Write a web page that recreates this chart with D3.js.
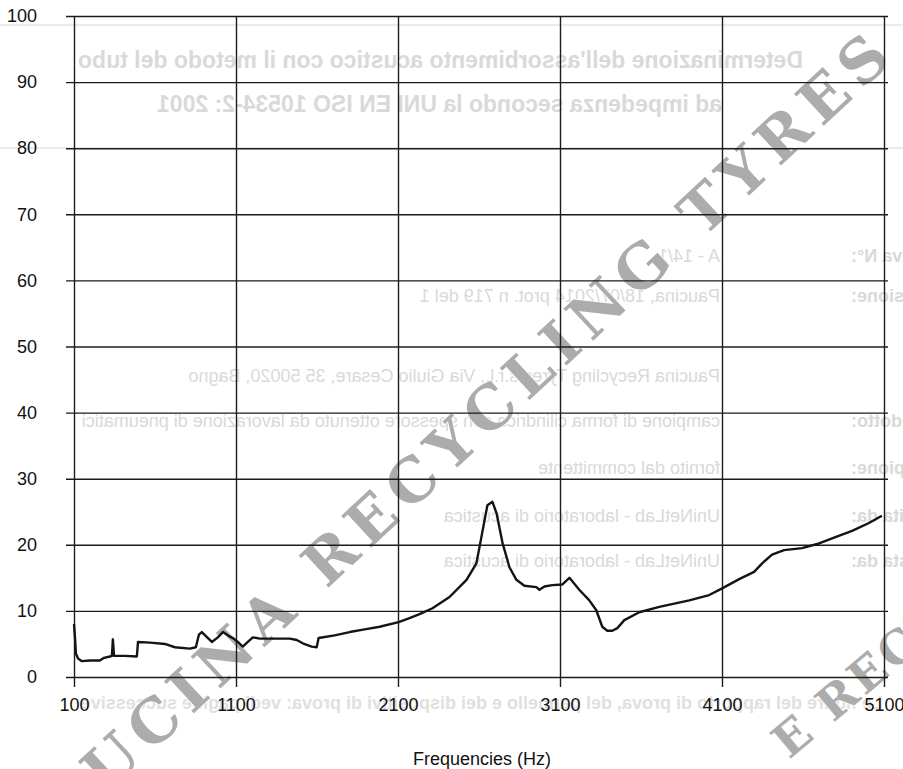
<!DOCTYPE html>
<html>
<head>
<meta charset="utf-8">
<script src="https://cdn.jsdelivr.net/npm/d3@7"></script>
<style>
  html, body { margin: 0; padding: 0; background: #fff; }
  svg { display: block; }
</style>
</head>
<body>
<svg id="chart"></svg>
<script>
const freqs = [100, 106, 112, 125, 149, 199, 260, 285, 322, 334, 340, 347, 414, 488, 495, 569, 661, 723, 815, 852,
  871, 889, 914, 951, 988, 1019, 1049, 1086, 1111, 1142, 1173, 1204, 1247, 1339, 1432, 1475, 1512, 1567, 1598, 1610,
  1709, 1802, 1894, 1987, 2104, 2171, 2233, 2313, 2418, 2523, 2584, 2615, 2652, 2683, 2708, 2745, 2788, 2831, 2880, 2954,
  2973, 3004, 3053, 3115, 3158, 3219, 3281, 3324, 3361, 3392, 3423, 3454, 3497, 3589, 3713, 3898, 4021, 4101, 4206, 4298,
  4348, 4409, 4483, 4594, 4699, 4804, 4903, 5007, 5087];
const absorption = [8.0, 6.0, 3.5, 2.8, 2.4, 2.5, 2.5, 2.9, 3.1, 3.2, 5.7, 3.2, 3.2, 3.1, 5.3, 5.2, 5.0, 4.5, 4.3, 4.5,
  6.4, 6.8, 6.2, 5.3, 6.0, 6.8, 6.3, 5.8, 5.3, 4.6, 5.3, 6.0, 5.8, 5.8, 5.8, 5.6, 5.1, 4.6, 4.5, 5.9,
  6.3, 6.8, 7.2, 7.6, 8.3, 8.9, 9.5, 10.4, 12.1, 14.7, 17.2, 21.2, 26.0, 26.5, 24.8, 20.3, 16.6, 14.7, 13.8, 13.6,
  13.2, 13.7, 13.9, 14.0, 15.0, 13.2, 11.6, 10.1, 7.6, 7.0, 7.0, 7.4, 8.6, 9.8, 10.6, 11.6, 12.4, 13.4, 14.8, 15.9,
  17.2, 18.5, 19.2, 19.5, 20.2, 21.2, 22.1, 23.3, 24.4];
const xTicks = [100, 1100, 2100, 3100, 4100, 5100];
const yTicks = [0, 10, 20, 30, 40, 50, 60, 70, 80, 90, 100];
const xTitle = 'Frequencies (Hz)';

// show-through of the back page (mirrored on the scan)
const backTitle = ["Determinazione dell'assorbimento acustico con il metodo del tubo",
  'ad impedenza secondo la UNI EN ISO 10534-2: 2001'];
const backLabels = ['Rapporto di prova N°:', 'Data emissione:', '', 'Descrizione del prodotto:',
  'Identificazione del campione:', 'Prova eseguita da:', 'Prova richiesta da:'];
const backValues = ['A - 14/1', 'Paucina, 18/07/2014                          prot. n 719 del 1',
  'Paucina Recycling Tyres s.r.l., Via Giulio Cesare, 35  50020, Bagno',
  'campione di forma cilindrica con spessore ottenuto da lavorazione di pneumatici',
  'fornito dal committente', 'UniNetLab - laboratorio di acustica', 'UniNetLab - laboratorio di acustica'];
const backFooter = 'Le figure del rapporto di prova, del pannello e dei dispositivi di prova: vedi pagine successive';

const width = 903;
const height = 769;

const svg = d3.select('#chart')
  .attr('width', width)
  .attr('height', height);

svg.append('rect')
  .attr('width', width)
  .attr('height', height)
  .attr('fill', '#fff');

const back = svg.append('g')
  .attr('transform', `translate(${width},0) scale(-1,1)`)
  .attr('fill', '#d9d9d9')
  .style('font-family', '"Liberation Sans", Arial, sans-serif')
  .style('font-weight', 'bold')
  .style('white-space', 'pre');

back.selectAll('.rule')
  .data([25, 148])
  .enter()
  .append('line')
  .attr('x1', 0)
  .attr('x2', width)
  .attr('y1', d => d)
  .attr('y2', d => d)
  .attr('stroke', '#e4e4e4')
  .attr('stroke-width', 1.5);

back.selectAll('.title')
  .data(backTitle)
  .enter()
  .append('text')
  .attr('x', (d, i) => i === 0 ? 825 : 746)
  .attr('y', (d, i) => i === 0 ? 68 : 112)
  .attr('text-anchor', 'end')
  .style('font-size', '23px')
  .text(d => d);

const rowY = [262, 302, 382, 427, 474, 522, 567];
back.selectAll('.lab')
  .data(backLabels)
  .enter()
  .append('text')
  .attr('x', 52)
  .attr('y', (d, i) => rowY[i])
  .attr('text-anchor', 'end')
  .style('font-size', '18px')
  .text(d => d);

back.selectAll('.val')
  .data(backValues)
  .enter()
  .append('text')
  .attr('x', 183)
  .attr('y', (d, i) => rowY[i])
  .style('font-size', '18px')
  .style('font-weight', 'normal')
  .text(d => d);

back.append('text')
  .attr('x', 20)
  .attr('y', 709)
  .attr('fill', '#e0e0e0')
  .style('font-size', '18px')
  .text(backFooter);

// watermark
const mark = svg.append('g')
  .style('font-family', '"DejaVu Serif", "Liberation Serif", serif')
  .style('font-weight', 'bold')
  .attr('fill', '#acacac')
  .attr('stroke', '#fff')
  .attr('stroke-width', 1.5)
  .style('paint-order', 'stroke');

mark.append('text')
  .attr('transform', 'translate(30,866) rotate(-43)')
  .attr('textLength', 1180)
  .attr('lengthAdjust', 'spacing')
  .style('font-size', '60px')
  .text('PAUCINA RECYCLING TYRES');

mark.append('text')
  .attr('transform', 'translate(789,760) rotate(-40)')
  .attr('textLength', 396)
  .attr('lengthAdjust', 'spacing')
  .style('font-size', '46px')
  .text('E RECYCLING');

// chart
const x = d3.scaleLinear().domain([100, 5100]).range([74, 884]);
const y = d3.scaleLinear().domain([0, 100]).range([677, 16]);

const yAxis = svg.append('g')
  .attr('transform', 'translate(66,0)')
  .call(d3.axisLeft(y).tickValues(yTicks).tickSize(-822).tickPadding(29).tickFormat(d3.format('d')));

const xAxis = svg.append('g')
  .attr('transform', 'translate(0,687)')
  .call(d3.axisBottom(x).tickValues(xTicks).tickSize(-671).tickPadding(11).tickFormat(d3.format('d')));

[xAxis, yAxis].forEach(a => {
  a.select('.domain').remove();
  a.selectAll('line').attr('stroke', '#1c1c1c').attr('stroke-width', 1.4);
  a.selectAll('text')
    .attr('fill', '#111')
    .style('font-family', '"Liberation Sans", Arial, sans-serif')
    .style('font-size', '18px');
});

const line = d3.line()
  .x((d, i) => x(freqs[i]))
  .y(d => y(d));

svg.append('path')
  .datum(absorption)
  .attr('d', line)
  .attr('fill', 'none')
  .attr('stroke', '#141414')
  .attr('stroke-width', 2.4)
  .attr('stroke-linejoin', 'round');

svg.append('text')
  .attr('x', 482)
  .attr('y', 765)
  .attr('text-anchor', 'middle')
  .attr('fill', '#111')
  .style('font-family', '"Liberation Sans", Arial, sans-serif')
  .style('font-size', '18px')
  .text(xTitle);
</script>
</body>
</html>
